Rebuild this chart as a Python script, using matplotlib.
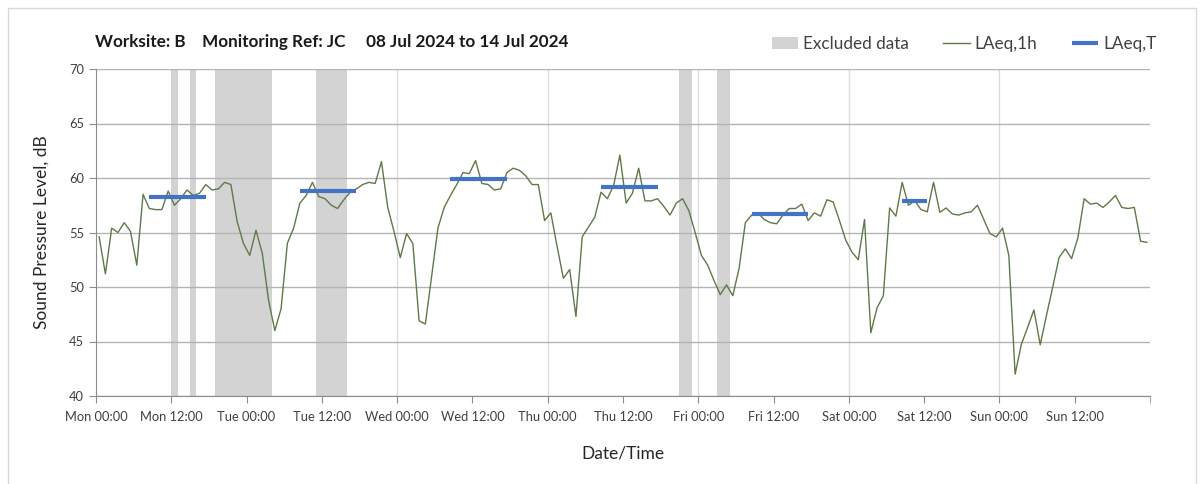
import matplotlib
matplotlib.use("Agg")
import matplotlib.pyplot as plt
import numpy as np
from matplotlib.patches import Rectangle

plt.rcParams['font.family'] = ['Lato', 'DejaVu Sans']

# Hourly LAeq values, Mon 00:00 .. Sun 23:00 (plotted at mid-hour)
laeq_1h = [
    54.6, 51.2, 55.4, 55.0, 55.9, 55.1, 52.0, 58.5, 57.2, 57.1, 57.1, 58.8,
    57.5, 58.1, 58.9, 58.4, 58.6, 59.4, 58.9, 59.0, 59.6, 59.4, 56.0, 54.0,
    52.9, 55.2, 53.1, 48.8, 46.0, 48.0, 54.0, 55.4, 57.7, 58.4, 59.6, 58.3,
    58.1, 57.5, 57.2, 58.0, 58.7, 59.0, 59.4, 59.6, 59.5, 61.5, 57.3, 55.1,
    52.7, 54.9, 54.0, 46.9, 46.6, 51.0, 55.4, 57.3, 58.4, 59.4, 60.5, 60.4,
    61.6, 59.5, 59.4, 58.9, 59.0, 60.5, 60.9, 60.7, 60.2, 59.4, 59.4, 56.1,
    56.8, 53.7, 50.8, 51.6, 47.3, 54.6, 55.5, 56.4, 58.7, 58.1, 59.3, 62.1,
    57.7, 58.6, 60.9, 57.9, 57.9, 58.1, 57.4, 56.6, 57.7, 58.1, 57.0, 55.0,
    52.9, 52.0, 50.6, 49.3, 50.2, 49.2, 51.7, 55.9, 56.6, 56.8, 56.2, 55.9,
    55.8, 56.6, 57.2, 57.2, 57.6, 56.1, 56.8, 56.5, 58.0, 57.8, 56.1, 54.3,
    53.2, 52.5, 56.2, 45.8, 48.1, 49.2, 57.25, 56.5, 59.6, 57.5, 57.9, 57.1,
    56.9, 59.6, 56.85, 57.25, 56.7, 56.6, 56.8, 56.9, 57.5, 56.2, 54.9, 54.6,
    55.4, 52.9, 42.0, 44.75, 46.3, 47.9, 44.7, 47.4, 50.0, 52.7, 53.5, 52.6,
    54.5, 58.1, 57.6, 57.7, 57.3, 57.8, 58.4, 57.3, 57.2, 57.3, 54.2, 54.1,
]
hours = np.arange(len(laeq_1h)) + 0.5

# Excluded periods (start hour, end hour) from Mon 00:00
excl_start = [12, 15, 19, 35, 93, 99]
excl_end = [13, 16, 28, 40, 95, 101]

# LAeq,T daytime periods
t_start = [8.5, 32.5, 56.5, 80.5, 104.5, 128.5]
t_end = [17.5, 41.5, 65.5, 89.5, 113.5, 132.5]
t_level = [58.3, 58.8, 59.9, 59.2, 56.7, 57.9]

day_labels = ['Mon', 'Tue', 'Wed', 'Thu', 'Fri', 'Sat', 'Sun']

fig = plt.figure(figsize=(12.03, 4.84), dpi=100)
ax = fig.add_axes([96/1203, 1-396/484, (1150-96)/1203, (396-69)/484])

for i in range(len(excl_start)):
    ax.axvspan(excl_start[i], excl_end[i], color='#d3d3d3', lw=0,
               label='Excluded data' if i == 0 else None, zorder=1)

ax.plot(hours, laeq_1h, color='#5e7a48', lw=1.0, label='LAeq,1h', zorder=3)

for i in range(len(t_start)):
    ax.plot([t_start[i], t_end[i]], [t_level[i], t_level[i]], color='#4472c4',
            lw=3, solid_capstyle='butt', label='LAeq,T' if i == 0 else None, zorder=4)

ax.set_xlim(0, 168)
ax.set_ylim(40, 70)
ax.set_yticks(np.arange(40, 71, 5))

labels = []
for d in day_labels:
    labels.append(d + ' 00:00')
    labels.append(d + ' 12:00')
ax.set_xticks(np.arange(0, 168, 12))
ax.set_xticklabels(labels)
ax.xaxis.set_minor_locator(plt.FixedLocator([168]))

ax.grid(axis='y', color='#b4b4b4', lw=1, zorder=0)
for x in range(24, 168, 24):
    ax.axvline(x, color='#dcdcdc', lw=1, zorder=0)

for s in ['top', 'right']:
    ax.spines[s].set_visible(False)
for s in ['left', 'bottom']:
    ax.spines[s].set_color('#8c8c8c')
ax.tick_params(axis='both', which='both', colors='#8c8c8c', length=5, labelsize=9.3,
               labelcolor='#404040')
ax.tick_params(axis='x', pad=6)

ax.set_ylabel('Sound Pressure Level, dB', fontsize=12.5, color='#262626', labelpad=14)
ax.set_xlabel('Date/Time', fontsize=12.5, color='#262626', labelpad=16)

fig.text(95/1203, 1-42/484, 'Worksite: B    Monitoring Ref: JC     08 Jul 2024 to 14 Jul 2024',
         fontsize=12.3, fontweight='bold', color='#1a1a1a', va='center', ha='left')

fig.legend(loc='center right', bbox_to_anchor=(1172/1203, 1-44/484), ncol=3,
           frameon=False, fontsize=12.3, handlelength=1.55, columnspacing=2.0,
           handletextpad=0.3, labelcolor='#404040')

fig.patches.append(Rectangle((8/1203, -0.02), (1196-8)/1203, 1.0 - 8/484 + 0.02,
                             transform=fig.transFigure, fill=False,
                             edgecolor='#d9d9d9', lw=1))

fig.savefig('out.png', dpi=100)
